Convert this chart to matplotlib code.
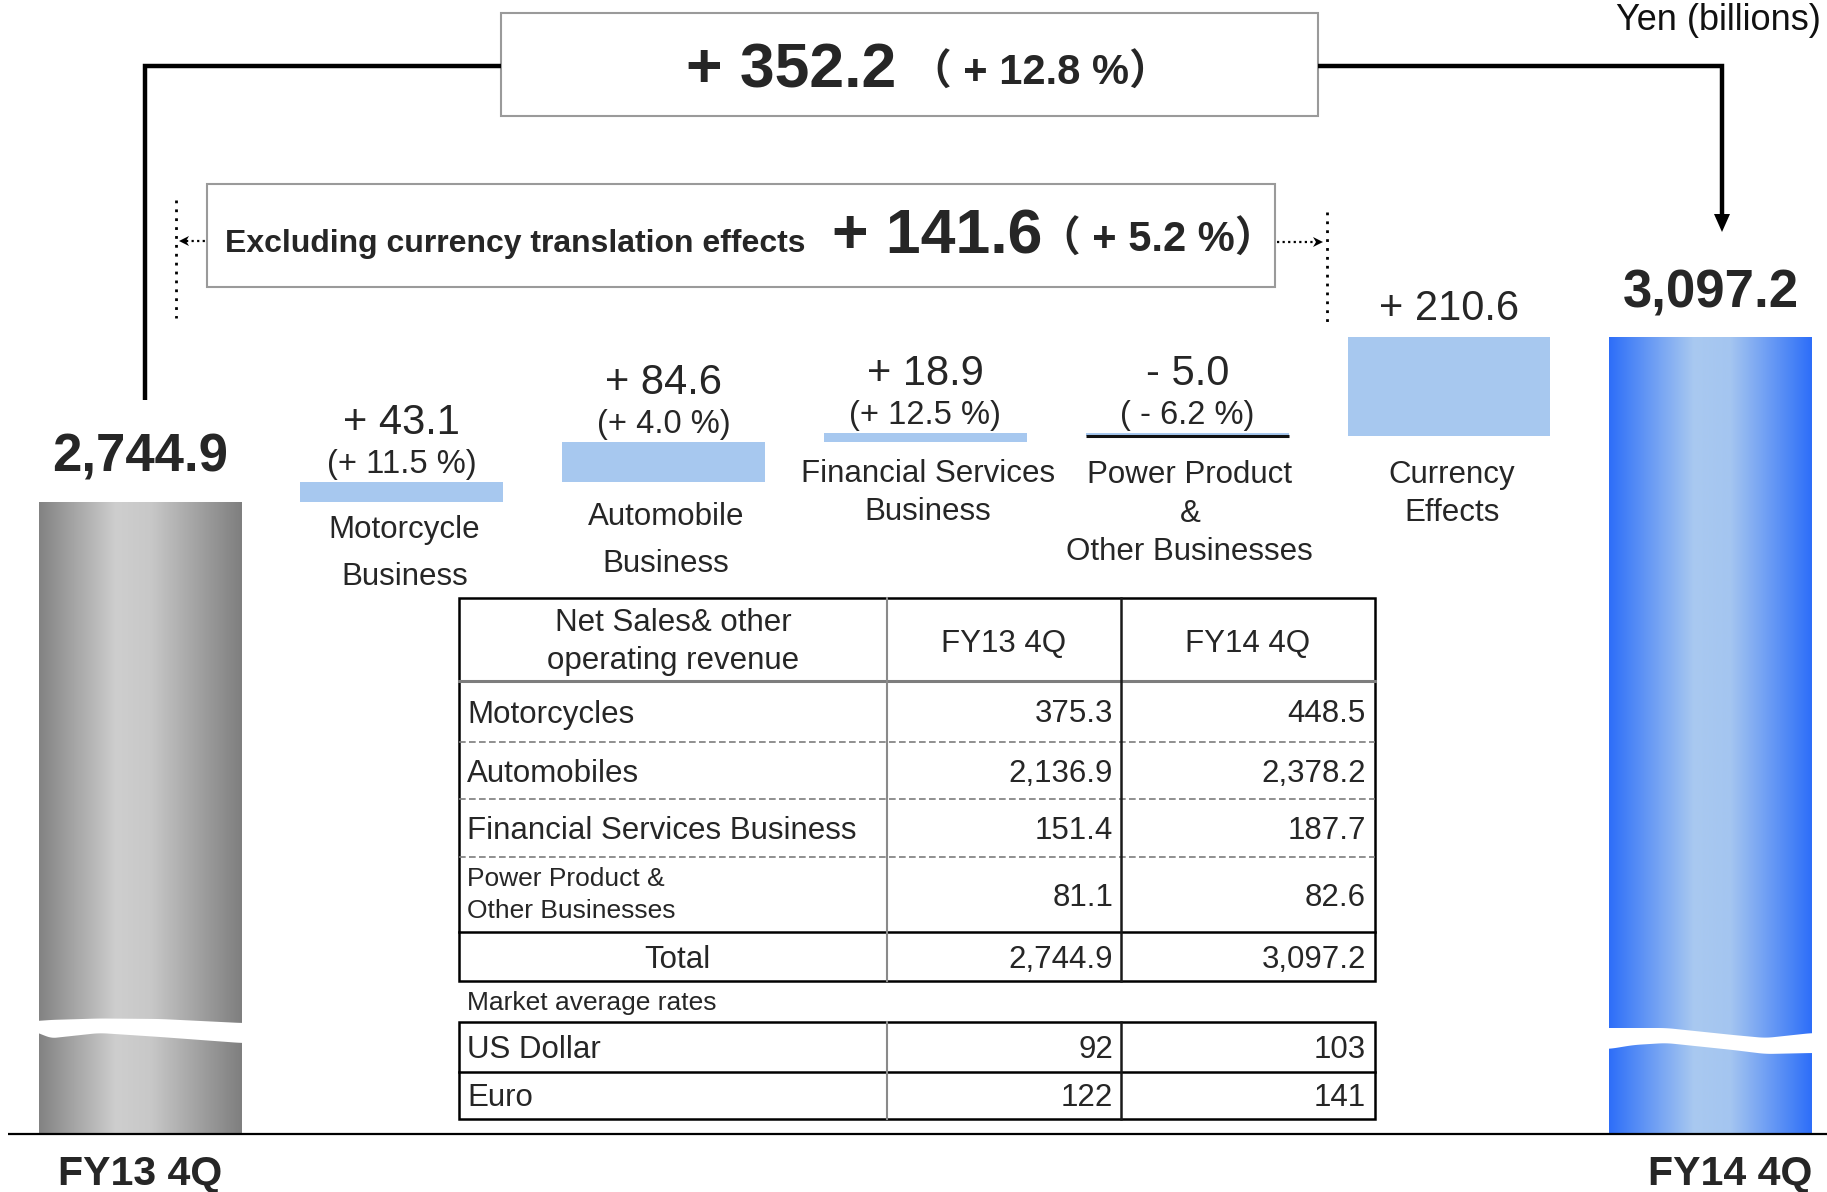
import numpy as np
import matplotlib
matplotlib.use("Agg")
import matplotlib.pyplot as plt
from matplotlib.colors import LinearSegmentedColormap
from matplotlib.patches import Rectangle
from matplotlib import transforms

plt.rcParams['font.family'] = ['Liberation Sans', 'Noto Sans CJK JP', 'DejaVu Sans']

# ---------------- data ----------------
period_labels = ["FY13 4Q", "FY14 4Q"]
period_totals = [2744.9, 3097.2]
total_change = 352.2
total_change_pct = 12.8
excl_fx_change = 141.6
excl_fx_change_pct = 5.2
excl_fx_label = "Excluding currency translation effects"
segment_names = ["Motorcycle\nBusiness", "Automobile\nBusiness",
                 "Financial Services\nBusiness", "Power Product\n&\nOther Businesses",
                 "Currency\nEffects"]
segment_deltas = [43.1, 84.6, 18.9, -5.0, 210.6]
segment_pcts = [11.5, 4.0, 12.5, -6.2, None]
unit_label = "Yen (billions)"

table_title = ["Net Sales& other", "operating revenue"]
table_segments = ["Motorcycles", "Automobiles", "Financial Services Business",
                  "Power Product &\nOther Businesses", "Total"]
sales_fy13 = [375.3, 2136.9, 151.4, 81.1, 2744.9]
sales_fy14 = [448.5, 2378.2, 187.7, 82.6, 3097.2]
rates_title = "Market average rates"
currencies = ["US Dollar", "Euro"]
rates_fy13 = [92, 122]
rates_fy14 = [103, 141]

# ---------------- layout ----------------
W, H = 1827, 1192
TXT = '#262626'
fig = plt.figure(figsize=(W / 100, H / 100), dpi=100)
BASE = 1134
ax = fig.add_axes([0, (H - BASE) / H, 1, BASE / H])
ov = fig.add_axes([0, 0, 1, 1])
ov.set_xlim(0, W)
ov.set_ylim(H, 0)
ov.axis('off')
ov.set_zorder(3)

# y scale anchored so the two totals' tops land at their pixel rows
PX_START, PX_END = 502, 337
k = (PX_START - PX_END) / (period_totals[1] - period_totals[0])
y_hi = period_totals[0] + PX_START / k
y_lo = period_totals[0] - (BASE - PX_START) / k
STEP, X0 = 261.8, 140
XL = (-X0 / STEP, (W - X0) / STEP)
BW = 0.775
ax.set_xlim(*XL)
ax.set_ylim(y_lo, y_hi)
ax.axis('off')
bt = transforms.blended_transform_factory(ax.transData, ov.transData)

# ---------------- total bars with gradient ----------------
gray = LinearSegmentedColormap.from_list('g', [(0, '#838383'), (0.38, '#cecece'),
                                               (0.55, '#c8c8c8'), (1, '#7f7f7f')])
blue = LinearSegmentedColormap.from_list('b', [(0, '#2e6ef9'), (0.06, '#3f7cf7'),
                                               (0.42, '#a9c9f0'), (0.6, '#a4c5f0'),
                                               (0.94, '#3f7cf7'), (1, '#2e6ef9')])
tb = ax.bar([0, 6], [v - y_lo for v in period_totals], bottom=y_lo, width=BW,
            color='none', linewidth=0)
for rect, cm in zip(tb, [gray, blue]):
    x, y, w, h = rect.get_x(), rect.get_y(), rect.get_width(), rect.get_height()
    im = ax.imshow(np.linspace(0, 1, 400)[None, :], cmap=cm, extent=(x, x + w, y, y + h),
                   aspect='auto', interpolation='bilinear', zorder=1)
    im.set_clip_path(rect)
ax.set_xlim(*XL)
ax.set_ylim(y_lo, y_hi)


# break waves (white bands)
def wave(rect, ts, up, lo):
    t = np.linspace(-0.02, 1.02, 120)
    u = np.interp(t, ts, up)
    l = np.interp(t, ts, lo)
    ker = np.ones(9) / 9
    u = np.convolve(np.pad(u, 4, mode='edge'), ker, mode='valid')
    l = np.convolve(np.pad(l, 4, mode='edge'), ker, mode='valid')
    xs = rect.get_x() + t * rect.get_width()
    ov.fill(np.r_[xs, xs[::-1]], np.r_[u, l[::-1]], color='white', lw=0, transform=bt)


wave(tb[0], [0, 0.05, 0.3, 0.6, 1.0], [1021, 1020, 1018.5, 1019, 1023],
     [1032, 1038.5, 1033, 1037, 1043])
wave(tb[1], [0, 0.12, 0.28, 0.61, 0.77, 1.0], [1028, 1028, 1028, 1035, 1038, 1033],
     [1049, 1045, 1043, 1050, 1054, 1053])

# ---------------- delta bars ----------------
running = period_totals[0]
tops, bots = [], []
for d in segment_deltas:
    nxt = running + d
    bots.append(min(running, nxt))
    tops.append(max(running, nxt))
    running = nxt
heights = [t - b for t, b in zip(tops, bots)]
idx = np.arange(1, 6)
ax.bar(idx, heights, bottom=bots, width=BW, color='#a7c8ef', linewidth=0, zorder=2)
for i, d in zip(idx, segment_deltas):
    if d < 0:
        ax.hlines(bots[i - 1], i - BW / 2, i + BW / 2, color='#111111', lw=2.2, zorder=3)


def fmt_delta(d):
    return f"{'+' if d >= 0 else '-'} {abs(d):.1f}"


def fmt_pct(p):
    return f"(+ {p:.1f} %)" if p >= 0 else f"( - {abs(p):.1f} %)"


for i, d, p, t in zip(idx, segment_deltas, segment_pcts, tops):
    if p is None:
        ax.annotate(fmt_delta(d), (i, t), xytext=(0, 17), textcoords='offset pixels',
                    ha='center', va='baseline', fontsize=30, color=TXT)
    else:
        ax.annotate(fmt_delta(d), (i, t), xytext=(0, 48), textcoords='offset pixels',
                    ha='center', va='baseline', fontsize=30, color=TXT)
        ax.annotate(fmt_pct(p), (i, t), xytext=(0, 9), textcoords='offset pixels',
                    ha='center', va='baseline', fontsize=23.5, color=TXT)

# category labels
cat_baselines = [[538, 585], [525, 572], [482, 520], [483, 522, 560], [483, 521]]
for i, name, bls in zip(idx, segment_names, cat_baselines):
    for line, yb in zip(name.split('\n'), bls):
        ov.text(i + 0.01, yb, line, transform=bt, ha='center', va='baseline',
                fontsize=22.5, color=TXT)

# totals labels
for i, v in zip([0, 6], period_totals):
    ax.annotate(f"{v:,.1f}", (i, v), xytext=(0, 30), textcoords='offset pixels',
                ha='center', va='baseline', fontsize=38, fontweight='bold', color=TXT)
ov.text(0, 1185, period_labels[0], transform=bt, ha='center', va='baseline',
        fontsize=29.5, fontweight='bold', color=TXT)
ov.text(6 + BW / 2, 1185, period_labels[1], transform=bt, ha='right', va='baseline',
        fontsize=29.5, fontweight='bold', color=TXT)

# baseline
ov.plot([8, W], [BASE, BASE], color='black', lw=1.6, solid_capstyle='butt')

# ---------------- top annotations ----------------
ov.add_patch(Rectangle((501, 13), 817, 103, facecolor='white', edgecolor='#9a9a9a', lw=1.5))
ov.text(791, 87, f"+ {total_change:.1f}", ha='center', va='baseline', fontsize=45,
        fontweight='bold', color=TXT)
ov.text(1040, 85, f"（ + {total_change_pct:.1f} %）", ha='center', va='baseline',
        fontsize=30, fontweight='bold', color=TXT)
ov.plot([501, 145, 145], [66, 66, 400], color='black', lw=3.2,
        solid_joinstyle='miter', solid_capstyle='butt')
ov.plot([1318, 1722, 1722], [66, 66, 218], color='black', lw=3.2,
        solid_joinstyle='miter', solid_capstyle='butt')
ov.fill([1714, 1730, 1722], [214, 214, 232], color='black', lw=0)

ov.add_patch(Rectangle((207, 184), 1068, 103, facecolor='white', edgecolor='#9a9a9a', lw=1.5))
ov.text(225, 252, excl_fx_label, ha='left', va='baseline', fontsize=23,
        fontweight='bold', color=TXT)
ov.text(832, 253, f"+ {excl_fx_change:.1f}", ha='left', va='baseline', fontsize=45,
        fontweight='bold', color=TXT)
ov.text(1158, 252, f"（ + {excl_fx_change_pct:.1f} %）", ha='center', va='baseline',
        fontsize=30, fontweight='bold', color=TXT)

# dotted guides and arrows
ov.plot([176, 176], [200, 318], color='black', lw=2, ls=(0, (1, 2.2)))
ov.plot([1327, 1327], [212, 327], color='black', lw=2, ls=(0, (1, 2.2)))
ov.plot([186, 205], [241, 241], color='black', lw=1.6, ls=(0, (1, 1.5)))
ov.fill([179, 189, 186, 189], [241, 236, 241, 246], color='black', lw=0)
ov.plot([1277, 1314], [242, 242], color='black', lw=1.6, ls=(0, (1, 1.5)))
ov.fill([1323, 1313, 1316, 1313], [242, 237, 242, 247], color='black', lw=0)

ov.text(1821, 30, unit_label, ha='right', va='baseline', fontsize=26, color='#111111')

# ---------------- table ----------------
TL, TR, C1, C2 = 459, 1375, 887, 1121
ry = [598, 681, 742, 799, 857, 932, 981]
GR = '#7d7d7d'
ov.plot([TL, TR], [681, 681], color=GR, lw=2.2)
for y in ry[2:5]:
    ov.plot([TL, TR], [y, y], color=GR, lw=1.2, ls=(0, (4, 2)))
ov.plot([TL, TR], [932, 932], color='black', lw=1.8)
ov.plot([C1, C1], [598, 981], color='#8a8a8a', lw=1.5)
ov.plot([C2, C2], [598, 981], color='#1a1a1a', lw=1.8)
ov.add_patch(Rectangle((TL, 598), TR - TL, 981 - 598, fill=False, edgecolor='black', lw=1.8))

TFS = 22.5
ov.text((TL + C1) / 2, 631, table_title[0], ha='center', va='baseline', fontsize=TFS, color=TXT)
ov.text((TL + C1) / 2, 669, table_title[1], ha='center', va='baseline', fontsize=TFS, color=TXT)
ov.text((C1 + C2) / 2, 652, period_labels[0], ha='center', va='baseline', fontsize=TFS, color=TXT)
ov.text((C2 + TR) / 2, 652, period_labels[1], ha='center', va='baseline', fontsize=TFS, color=TXT)
for j, (name, a, b) in enumerate(zip(table_segments, sales_fy13, sales_fy14)):
    top, bot = ry[j + 1], ry[j + 2]
    yb = (top + bot) / 2 + 11
    if '\n' in name:
        l1, l2 = name.split('\n')
        ov.text(TL + 8, 886, l1, ha='left', va='baseline', fontsize=19, color=TXT)
        ov.text(TL + 8, 918, l2, ha='left', va='baseline', fontsize=19, color=TXT)
    elif name == "Total":
        ov.text((TL + C1) / 2 + 4, yb, name, ha='center', va='baseline', fontsize=TFS, color=TXT)
    else:
        ov.text(TL + 8, yb, name, ha='left', va='baseline', fontsize=TFS, color=TXT)
    ov.text(C2 - 8, yb, f"{a:,.1f}", ha='right', va='baseline', fontsize=TFS, color=TXT)
    ov.text(TR - 9, yb, f"{b:,.1f}", ha='right', va='baseline', fontsize=TFS, color=TXT)

ov.text(TL + 8, 1010, rates_title, ha='left', va='baseline', fontsize=19, color=TXT)
rt = [1022, 1072, 1119]
ov.plot([TL, TR], [1072, 1072], color='black', lw=1.8)
ov.plot([C1, C1], [1022, 1119], color='#8a8a8a', lw=1.5)
ov.plot([C2, C2], [1022, 1119], color='#1a1a1a', lw=1.8)
ov.add_patch(Rectangle((TL, 1022), TR - TL, 1119 - 1022, fill=False, edgecolor='black', lw=1.8))
for j, (name, a, b) in enumerate(zip(currencies, rates_fy13, rates_fy14)):
    yb = (rt[j] + rt[j + 1]) / 2 + 11
    ov.text(TL + 8, yb, name, ha='left', va='baseline', fontsize=TFS, color=TXT)
    ov.text(C2 - 8, yb, f"{a}", ha='right', va='baseline', fontsize=TFS, color=TXT)
    ov.text(TR - 9, yb, f"{b}", ha='right', va='baseline', fontsize=TFS, color=TXT)

fig.savefig("out.png", dpi=100)
